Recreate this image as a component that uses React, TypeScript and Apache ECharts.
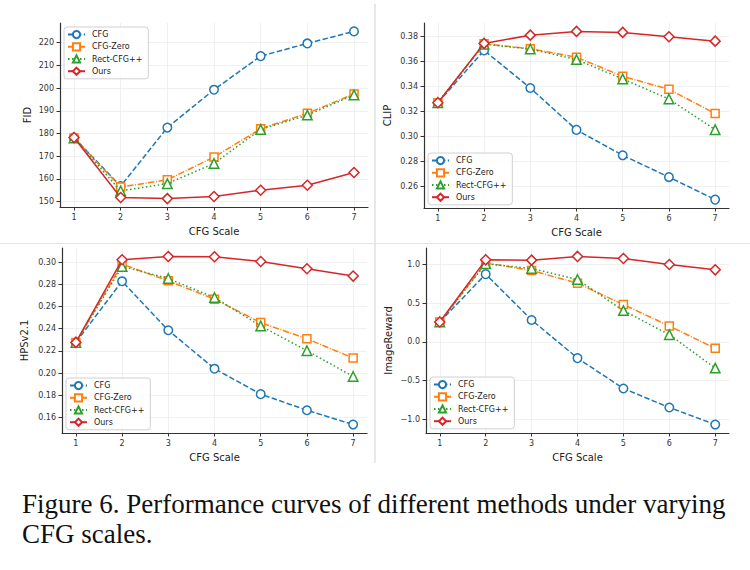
import React, { useEffect, useRef } from "react";
import * as echarts from "echarts";

const scales = [1, 2, 3, 4, 5, 6, 7];
const methods = ["CFG", "CFG-Zero", "Rect-CFG++", "Ours"];

const fidCFG = [178.2, 156.8, 182.6, 199.3, 214.1, 219.7, 225.0];
const fidZero = [178.0, 156.4, 159.6, 169.6, 182.1, 188.9, 197.4];
const fidRect = [178.0, 154.7, 157.9, 166.8, 181.8, 188.1, 197.0];
const fidOurs = [178.2, 151.8, 151.3, 152.2, 155.0, 157.2, 162.8];

const clipCFG = [0.327, 0.3688, 0.3388, 0.3053, 0.285, 0.2676, 0.2496];
const clipZero = [0.327, 0.3741, 0.3701, 0.3634, 0.3481, 0.3377, 0.3184];
const clipRect = [0.327, 0.3738, 0.3699, 0.3615, 0.346, 0.33, 0.3055];
const clipOurs = [0.327, 0.3744, 0.381, 0.384, 0.3832, 0.3797, 0.3762];

const hpsCFG = [0.2277, 0.2828, 0.2386, 0.204, 0.1811, 0.1666, 0.1537];
const hpsZero = [0.2277, 0.2982, 0.2831, 0.2666, 0.2455, 0.231, 0.2136];
const hpsRect = [0.2277, 0.2961, 0.2852, 0.2681, 0.2425, 0.2202, 0.197];
const hpsOurs = [0.2277, 0.3021, 0.3051, 0.3048, 0.3006, 0.294, 0.2874];

const irCFG = [0.257, 0.875, 0.283, -0.21, -0.603, -0.849, -1.069];
const irZero = [0.257, 1.02, 0.922, 0.758, 0.482, 0.205, -0.084];
const irRect = [0.257, 1.01, 0.948, 0.806, 0.404, 0.093, -0.339];
const irOurs = [0.257, 1.06, 1.056, 1.104, 1.078, 1.0, 0.931];

const fidTicks = [150, 160, 170, 180, 190, 200, 210, 220];
const clipTicks = [0.26, 0.28, 0.3, 0.32, 0.34, 0.36, 0.38];
const hpsTicks = [0.16, 0.18, 0.2, 0.22, 0.24, 0.26, 0.28, 0.3];
const irTicks = [-1.0, -0.5, 0.0, 0.5, 1.0];

const captionText = "Figure 6. Performance curves of different methods under varying\nCFG scales.";

const colors = ["#1f77b4", "#ff7f0e", "#2ca02c", "#d62728"];
const symbols = ["circle", "rect", "triangle", "diamond"];
const symbolSizes = [8.5, 8, 9.5, 10];
const dashes: any[] = [[5.5, 2.4], [6.4, 1.6, 1, 1.6], [1.5, 2.5], "solid"];

const FONT = "DejaVu Sans";

export default function App() {
  const ref = useRef<HTMLDivElement>(null);
  useEffect(() => {
    if (!ref.current) return;
    const chart = echarts.init(ref.current, null, { renderer: "svg" });

    const panels = [
      { name: "FID", data: [fidCFG, fidZero, fidRect, fidOurs], ticks: fidTicks, min: 147.6, max: 228.7, fmt: (v: number) => v.toFixed(0), grid: { left: 60, top: 23, width: 308, height: 184 }, legend: { left: 64, top: 27 }, nameGap: 28 },
      { name: "CLIP", data: [clipCFG, clipZero, clipRect, clipOurs], ticks: clipTicks, min: 0.2429, max: 0.3907, fmt: (v: number) => v.toFixed(2), grid: { left: 424, top: 23, width: 305, height: 185 }, legend: { left: 428, top: 153 }, nameGap: 32 },
      { name: "HPSv2.1", data: [hpsCFG, hpsZero, hpsRect, hpsOurs], ticks: hpsTicks, min: 0.1461, max: 0.3127, fmt: (v: number) => v.toFixed(2), grid: { left: 62, top: 248, width: 305, height: 185 }, legend: { left: 66, top: 378 }, nameGap: 32.5 },
      { name: "ImageReward", data: [irCFG, irZero, irRect, irOurs], ticks: irTicks, min: -1.178, max: 1.213, fmt: (v: number) => v.toFixed(1).replace("-", "\u2212"), grid: { left: 426, top: 248, width: 303, height: 185 }, legend: { left: 430, top: 377 }, nameGap: 33 },
    ];

    const axisCommon = {
      axisLine: { show: true, onZero: false, lineStyle: { color: "#333", width: 1.2 } },
      axisTick: { show: true, length: 3.5, lineStyle: { color: "#333", width: 1 } },
      splitLine: { show: true, lineStyle: { color: "#ececec", width: 0.8 } },
    };

    const grid: any[] = [];
    const xAxis: any[] = [];
    const yAxis: any[] = [];
    const legend: any[] = [];
    const series: any[] = [];

    panels.forEach((p, pi) => {
      grid.push({ ...p.grid, containLabel: false });
      xAxis.push({
        type: "value",
        gridIndex: pi,
        min: 0.7,
        max: 7.3,
        name: "CFG Scale",
        nameLocation: "middle",
        nameGap: 19,
        nameTextStyle: { fontFamily: FONT, fontSize: 10, color: "#222" },
        axisLine: axisCommon.axisLine,
        axisTick: { ...axisCommon.axisTick, customValues: scales },
        axisLabel: { customValues: scales, fontFamily: FONT, fontSize: 8, color: "#333", margin: 6, formatter: (v: number) => String(v) },
        splitLine: axisCommon.splitLine,
      });
      yAxis.push({
        type: "value",
        gridIndex: pi,
        min: p.min,
        max: p.max,
        name: p.name,
        nameLocation: "middle",
        nameGap: p.nameGap,
        nameTextStyle: { fontFamily: FONT, fontSize: 10, color: "#222" },
        axisLine: axisCommon.axisLine,
        axisTick: { ...axisCommon.axisTick, customValues: p.ticks },
        axisLabel: { customValues: p.ticks, fontFamily: FONT, fontSize: 8, color: "#333", margin: 6, formatter: p.fmt },
        splitLine: axisCommon.splitLine,
      });
      legend.push({
        left: p.legend.left,
        top: p.legend.top,
        orient: "vertical",
        data: methods,
        itemWidth: 17,
        itemHeight: 9,
        itemGap: 3,
        padding: [3, 6, 3, 3],
        borderColor: "#d0d0d0",
        borderWidth: 1,
        borderRadius: 3,
        backgroundColor: "rgba(255,255,255,0.85)",
        textStyle: { fontFamily: FONT, fontSize: 8, color: "#222", padding: [0, 0, 0, 2] },
        selectedMode: false,
      });
      p.data.forEach((vals, si) => {
        series.push({
          type: "line",
          name: methods[si],
          xAxisIndex: pi,
          yAxisIndex: pi,
          data: scales.map((s, i) => [s, vals[i]]),
          symbol: symbols[si],
          symbolSize: symbolSizes[si],
          showAllSymbol: true,
          lineStyle: { color: colors[si], width: 1.5, type: dashes[si] },
          itemStyle: { color: "#fff", borderColor: colors[si], borderWidth: 1.5 },
          emphasis: { disabled: true },
          z: 2 + si,
        });
      });
    });

    chart.setOption({
      animation: false,
      backgroundColor: "#fff",
      grid,
      xAxis,
      yAxis,
      legend,
      series,
      graphic: [
        { type: "line", shape: { x1: 375, y1: 4, x2: 375, y2: 463 }, style: { stroke: "#d8d8d8", lineWidth: 1.2 } },
        { type: "line", shape: { x1: 0, y1: 243.5, x2: 750, y2: 243.5 }, style: { stroke: "#e4e4e4", lineWidth: 1 } },
        { type: "text", left: 22, top: 489, style: { text: captionText, fontFamily: "Liberation Serif", fontSize: 27, lineHeight: 30, fill: "#111" } },
      ],
    });
    return () => chart.dispose();
  }, []);
  return <div ref={ref} style={{ position: "fixed", left: 0, top: 0, width: 750, height: 570 }} />;
}
